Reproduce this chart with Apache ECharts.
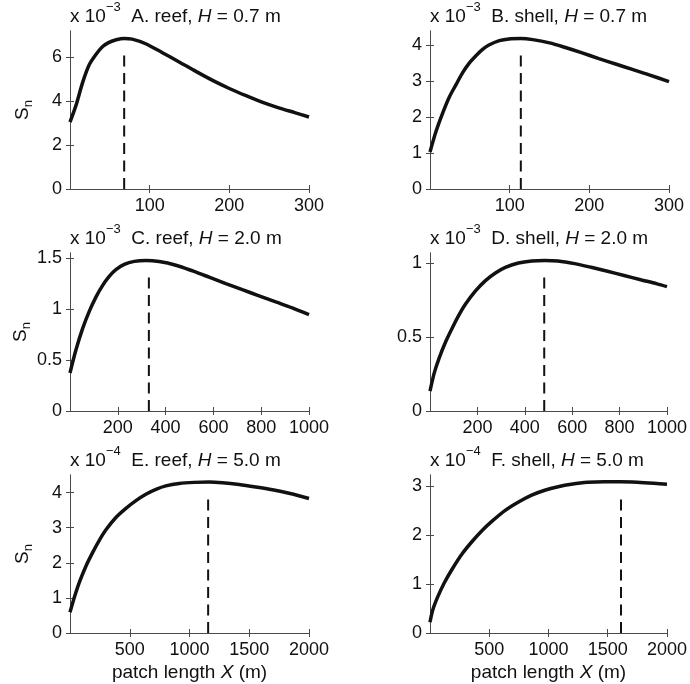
<!DOCTYPE html>
<html>
<head>
<meta charset="utf-8">
<script src="https://cdn.jsdelivr.net/npm/echarts@6/dist/echarts.min.js"></script>
<style>
html, body { margin: 0; padding: 0; background: #fff; }
#chart { width: 690px; height: 684px; }
</style>
</head>
<body>
<div id="chart"></div>
<script>
// patch length X (m) vs S_n (in units of the panel's 10^-3 / 10^-4)
const xA = [0, 7.5, 16, 24, 33, 41, 49, 58, 68, 78, 95, 116, 137, 158, 179, 200, 221, 241, 262, 283, 300];
const yA = [3.05, 3.81, 4.87, 5.65, 6.15, 6.49, 6.68, 6.80, 6.86, 6.83, 6.62, 6.21, 5.79, 5.36, 4.95, 4.58, 4.25, 3.96, 3.70, 3.47, 3.28];

const xB = [0, 7.5, 16, 24, 33, 41, 49, 58, 66, 74, 87, 99, 114, 129, 150, 170, 191, 212, 233, 254, 275, 300];
const yB = [1.03, 1.60, 2.12, 2.55, 2.92, 3.24, 3.50, 3.72, 3.89, 4.01, 4.13, 4.18, 4.19, 4.16, 4.07, 3.94, 3.79, 3.63, 3.48, 3.33, 3.18, 2.99];

const xC = [0, 25, 53, 81, 109, 136, 164, 192, 227, 269, 318, 373, 443, 513, 582, 652, 721, 791, 861, 930, 1000];
const yC = [0.373, 0.60, 0.81, 0.98, 1.12, 1.23, 1.32, 1.386, 1.438, 1.468, 1.477, 1.466, 1.430, 1.374, 1.313, 1.25, 1.19, 1.13, 1.07, 1.012, 0.945];

const xD = [0, 18, 39, 67, 95, 123, 150, 192, 234, 276, 318, 373, 429, 485, 540, 610, 680, 749, 819, 889, 958, 1000];
const yD = [0.135, 0.258, 0.36, 0.472, 0.566, 0.652, 0.724, 0.813, 0.883, 0.935, 0.973, 1.002, 1.016, 1.02, 1.016, 0.998, 0.973, 0.946, 0.918, 0.889, 0.861, 0.842];

const xE = [0, 36, 78, 134, 189, 245, 301, 384, 468, 552, 635, 719, 802, 914, 1039, 1164, 1276, 1415, 1554, 1694, 1833, 2000];
const yE = [0.59, 1.01, 1.44, 1.91, 2.29, 2.64, 2.94, 3.29, 3.55, 3.77, 3.95, 4.09, 4.19, 4.26, 4.29, 4.30, 4.28, 4.23, 4.16, 4.08, 3.98, 3.83];

const xF = [0, 22, 64, 120, 189, 273, 357, 440, 524, 635, 747, 858, 969, 1081, 1192, 1331, 1471, 1610, 1749, 1889, 2000];
const yF = [0.22, 0.46, 0.73, 1.02, 1.31, 1.62, 1.87, 2.09, 2.28, 2.50, 2.67, 2.81, 2.91, 2.98, 3.03, 3.07, 3.08, 3.08, 3.07, 3.05, 3.03];

// dashed marker at the optimum patch length
const peakX = [68, 114, 330, 482, 1156, 1612];
const dashTop = [6.23, 3.80, 1.34, 0.92, 3.90, 2.81];

const panelNames = ['A. reef', 'B. shell', 'C. reef', 'D. shell', 'E. reef', 'F. shell'];
const waveH = ['0.7', '0.7', '2.0', '2.0', '5.0', '5.0'];
const scaleExp = ['\u22123', '\u22123', '\u22123', '\u22123', '\u22124', '\u22124'];

// axis limits and tick positions
const xMax = [300, 300, 1000, 1000, 2000, 2000];
const yMax = [7.2, 4.4, 1.55, 1.07, 4.5, 3.22];
const xTicks = [
    [100, 200, 300], [100, 200, 300],
    [200, 400, 600, 800, 1000], [200, 400, 600, 800, 1000],
    [500, 1000, 1500, 2000], [500, 1000, 1500, 2000]
];
const yTicks = [
    [0, 2, 4, 6], [0, 1, 2, 3, 4],
    [0, 0.5, 1, 1.5], [0, 0.5, 1],
    [0, 1, 2, 3, 4], [0, 1, 2, 3]
];

const xs = [xA, xB, xC, xD, xE, xF];
const ys = [yA, yB, yC, yD, yE, yF];

const FONT = '"Liberation Sans", Arial, Helvetica, sans-serif';
const INK = '#111';
const AXIS = '#4a4a4a';

const colLeft = [70, 430];
const rowTop = [31, 253, 475];
const gridW = 239;
const gridH = 158;

const chart = echarts.init(document.getElementById('chart'));

const grid = [], xAxis = [], yAxis = [], series = [], title = [];

for (let i = 0; i < 6; i++) {
    const left = colLeft[i % 2];
    const top = rowTop[Math.floor(i / 2)];
    grid.push({ left: left, top: top, width: gridW, height: gridH });

    const axisLine = { show: true, lineStyle: { color: AXIS, width: 1 } };
    const xTick = { show: true, inside: true, length: 4, customValues: xTicks[i], lineStyle: { color: AXIS, width: 1 } };
    const yTick = { show: true, inside: true, length: 4, customValues: yTicks[i], lineStyle: { color: AXIS, width: 1 } };
    const labelStyle = { color: INK, fontFamily: FONT, fontSize: 18, margin: 8 };

    const bottomX = {
        type: 'value', gridIndex: i, position: 'bottom',
        min: 0, max: xMax[i],
        axisLine: axisLine, axisTick: xTick, splitLine: { show: false },
        axisLabel: Object.assign({ customValues: xTicks[i], formatter: v => String(v) }, labelStyle)
    };
    if (i >= 4) {
        bottomX.name = '{a|patch length }{i|X}{a| (m)}';
        bottomX.nameLocation = 'middle';
        bottomX.nameGap = 30;
        bottomX.nameTextStyle = {
            color: INK, fontFamily: FONT, fontSize: 19,
            rich: {
                a: { fontFamily: FONT, fontSize: 19, color: INK },
                i: { fontFamily: FONT, fontSize: 19, color: INK, fontStyle: 'italic' }
            }
        };
    }
    xAxis.push(bottomX);
    xAxis.push({
        type: 'value', gridIndex: i, position: 'top',
        min: 0, max: xMax[i],
        axisLine: axisLine, axisTick: xTick, splitLine: { show: false },
        axisLabel: { show: false }
    });

    const leftY = {
        type: 'value', gridIndex: i, position: 'left',
        min: 0, max: yMax[i],
        axisLine: axisLine, axisTick: yTick, splitLine: { show: false },
        axisLabel: Object.assign({ customValues: yTicks[i], formatter: v => String(v) }, labelStyle)
    };
    if (i % 2 === 0) {
        leftY.name = '{s|S}{n|n}';
        leftY.nameLocation = 'middle';
        leftY.nameRotate = 90;
        leftY.nameGap = 35;
        leftY.nameTextStyle = {
            color: INK, fontFamily: FONT,
            rich: {
                s: { fontFamily: FONT, fontSize: 19, lineHeight: 24, color: INK },
                n: { fontFamily: FONT, fontSize: 13, lineHeight: 13, color: INK, verticalAlign: 'bottom' }
            }
        };
    }
    yAxis.push(leftY);
    yAxis.push({
        type: 'value', gridIndex: i, position: 'right',
        min: 0, max: yMax[i],
        axisLine: axisLine, axisTick: yTick, splitLine: { show: false },
        axisLabel: { show: false }
    });

    series.push({
        type: 'line',
        xAxisIndex: 2 * i, yAxisIndex: 2 * i,
        data: xs[i].map((x, k) => [x, ys[i][k]]),
        showSymbol: false, smooth: 0.3,
        lineStyle: { color: '#111', width: 3.5 },
        silent: true, animation: false
    });
    series.push({
        type: 'line',
        xAxisIndex: 2 * i, yAxisIndex: 2 * i,
        data: [[peakX[i], 0], [peakX[i], dashTop[i]]],
        showSymbol: false,
        lineStyle: { color: '#111', width: 2, type: [11, 6.5] },
        silent: true, animation: false
    });

    title.push({
        left: left, top: top - 30, padding: 0,
        text: '{a|x 10}{sup|' + scaleExp[i] + '}{a|  ' + panelNames[i] + ', }{i|H}{a| = ' + waveH[i] + ' m}',
        textStyle: {
            fontWeight: 'normal',
            rich: {
                a: { fontFamily: FONT, fontSize: 19, lineHeight: 32, color: INK, fontWeight: 'normal' },
                i: { fontFamily: FONT, fontSize: 19, lineHeight: 32, color: INK, fontWeight: 'normal', fontStyle: 'italic' },
                sup: { fontFamily: FONT, fontSize: 13, lineHeight: 13, color: INK, fontWeight: 'normal', verticalAlign: 'top' }
            }
        }
    });
}

const option = {
    backgroundColor: '#fff',
    animation: false,
    title: title,
    grid: grid,
    xAxis: xAxis,
    yAxis: yAxis,
    series: series
};

chart.setOption(option);
</script>
</body>
</html>
